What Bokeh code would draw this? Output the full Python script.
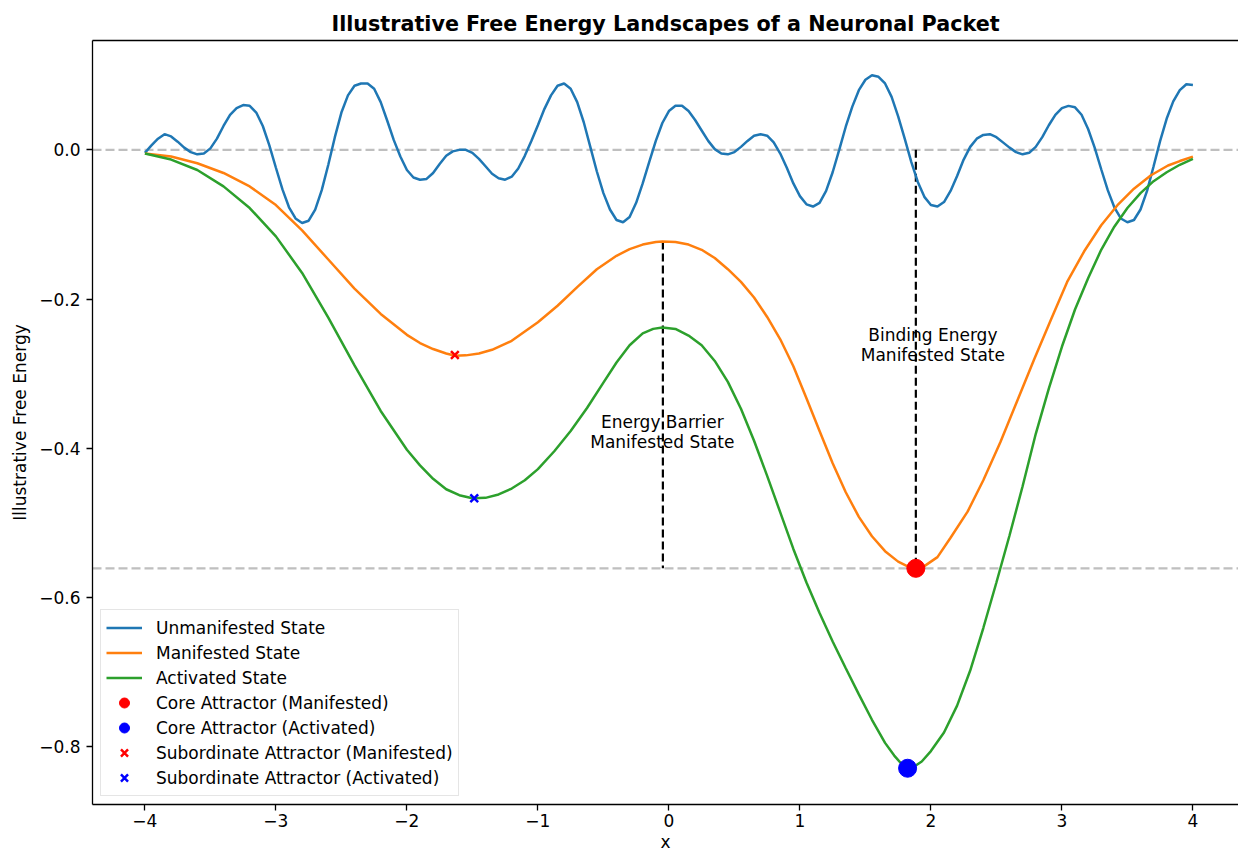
from bokeh.plotting import figure
from bokeh.models import Range1d, FixedTicker, CustomJSTickFormatter, LinearAxis, Span
from bokeh.core.properties import value
from bokeh.embed import file_html
from bokeh.resources import INLINE

FONT = "DejaVu Sans"

# ---------------- data ----------------
x_unman = [-4.0, -3.95, -3.9, -3.85, -3.8, -3.75, -3.7, -3.65, -3.6, -3.55, -3.5, -3.45, -3.4, -3.35,
           -3.3, -3.25, -3.2, -3.15, -3.1, -3.05, -3.0, -2.95, -2.9, -2.85, -2.8, -2.75, -2.7, -2.65,
           -2.6, -2.55, -2.5, -2.45, -2.4, -2.35, -2.3, -2.25, -2.2, -2.15, -2.1, -2.05, -2.0, -1.95,
           -1.9, -1.85, -1.8, -1.75, -1.7, -1.65, -1.6, -1.55, -1.5, -1.45, -1.4, -1.35, -1.3, -1.25,
           -1.2, -1.15, -1.1, -1.05, -1.0, -0.95, -0.9, -0.85, -0.8, -0.75, -0.7, -0.65, -0.6, -0.55,
           -0.5, -0.45, -0.4, -0.35, -0.3, -0.25, -0.2, -0.15, -0.1, -0.05, 0.0, 0.05, 0.1, 0.15,
           0.2, 0.25, 0.3, 0.35, 0.4, 0.45, 0.5, 0.55, 0.6, 0.65, 0.7, 0.75, 0.8, 0.85,
           0.9, 0.95, 1.0, 1.05, 1.1, 1.15, 1.2, 1.25, 1.3, 1.35, 1.4, 1.45, 1.5, 1.55,
           1.6, 1.65, 1.7, 1.75, 1.8, 1.85, 1.9, 1.95, 2.0, 2.05, 2.1, 2.15, 2.2, 2.25,
           2.3, 2.35, 2.4, 2.45, 2.5, 2.55, 2.6, 2.65, 2.7, 2.75, 2.8, 2.85, 2.9, 2.95,
           3.0, 3.05, 3.1, 3.15, 3.2, 3.25, 3.3, 3.35, 3.4, 3.45, 3.5, 3.55, 3.6, 3.65,
           3.7, 3.75, 3.8, 3.85, 3.9, 3.95, 4.0]
y_unman = [-0.004, 0.006, 0.015, 0.021, 0.018, 0.011, 0.003, -0.003, -0.006, -0.005, 0.002, 0.015, 0.032, 0.047,
           0.056, 0.060, 0.059, 0.050, 0.032, 0.006, -0.024, -0.053, -0.077, -0.092, -0.098, -0.095, -0.080, -0.054,
           -0.020, 0.017, 0.050, 0.073, 0.086, 0.089, 0.089, 0.082, 0.064, 0.039, 0.013, -0.009, -0.027, -0.037,
           -0.040, -0.039, -0.031, -0.019, -0.008, -0.002, 0.000, 0.000, -0.004, -0.012, -0.022, -0.032, -0.038, -0.040,
           -0.036, -0.025, -0.008, 0.012, 0.033, 0.055, 0.073, 0.086, 0.089, 0.082, 0.064, 0.037, 0.004, -0.029,
           -0.058, -0.080, -0.094, -0.097, -0.090, -0.071, -0.045, -0.016, 0.012, 0.036, 0.052, 0.059, 0.059, 0.052,
           0.040, 0.026, 0.012, 0.001, -0.005, -0.006, -0.003, 0.004, 0.012, 0.019, 0.021, 0.019, 0.010, -0.005,
           -0.024, -0.045, -0.062, -0.073, -0.076, -0.071, -0.055, -0.030, 0.000, 0.031, 0.058, 0.080, 0.094, 0.100,
           0.098, 0.089, 0.071, 0.045, 0.015, -0.016, -0.043, -0.063, -0.074, -0.076, -0.070, -0.055, -0.035, -0.013,
           0.004, 0.015, 0.020, 0.021, 0.017, 0.010, 0.003, -0.003, -0.006, -0.004, 0.004, 0.017, 0.033, 0.047,
           0.056, 0.059, 0.057, 0.047, 0.028, 0.003, -0.026, -0.054, -0.077, -0.092, -0.097, -0.094, -0.080, -0.055,
           -0.022, 0.012, 0.042, 0.065, 0.080, 0.088, 0.087]

x_manif = [-4.0, -3.8, -3.6, -3.4, -3.2, -3.0, -2.8, -2.6, -2.4, -2.2, -2.0, -1.9, -1.8, -1.7,
           -1.63, -1.55, -1.45, -1.35, -1.2, -1.0, -0.85, -0.7, -0.55, -0.4, -0.3, -0.2, -0.1, -0.05,
           0.05, 0.15, 0.25, 0.35, 0.45, 0.55, 0.65, 0.75, 0.85, 0.95, 1.05, 1.15, 1.25, 1.35,
           1.45, 1.55, 1.65, 1.75, 1.83, 1.885, 1.95, 2.05, 2.15, 2.28, 2.4, 2.53, 2.66, 2.79,
           2.92, 3.04, 3.17, 3.3, 3.43, 3.55, 3.68, 3.81, 3.9, 4.0]
y_manif = [-0.005, -0.009, -0.018, -0.031, -0.049, -0.074, -0.108, -0.147, -0.186, -0.220, -0.248, -0.259, -0.267, -0.273,
           -0.276, -0.2755, -0.273, -0.268, -0.256, -0.231, -0.209, -0.184, -0.160, -0.142, -0.133, -0.127, -0.1235, -0.123,
           -0.1235, -0.127, -0.134, -0.145, -0.160, -0.177, -0.198, -0.224, -0.254, -0.290, -0.333, -0.377, -0.420, -0.459,
           -0.492, -0.518, -0.538, -0.552, -0.559, -0.561, -0.558, -0.546, -0.520, -0.485, -0.443, -0.392, -0.336, -0.280,
           -0.226, -0.177, -0.136, -0.101, -0.073, -0.052, -0.034, -0.021, -0.015, -0.009]

x_activ = [-4.0, -3.8, -3.6, -3.4, -3.2, -3.0, -2.8, -2.6, -2.4, -2.2, -2.0, -1.9, -1.8, -1.7,
           -1.6, -1.5, -1.4, -1.3, -1.2, -1.1, -1.0, -0.875, -0.75, -0.625, -0.5, -0.4, -0.3, -0.2,
           -0.12, -0.05, 0.05, 0.15, 0.25, 0.35, 0.45, 0.55, 0.65, 0.75, 0.85, 0.95, 1.05, 1.15,
           1.25, 1.35, 1.45, 1.55, 1.65, 1.72, 1.78, 1.822, 1.87, 1.93, 2.0, 2.1, 2.2, 2.3,
           2.4, 2.5, 2.6, 2.7, 2.8, 2.9, 3.0, 3.1, 3.2, 3.3, 3.4, 3.5, 3.6, 3.7,
           3.8, 3.9, 4.0]
y_activ = [-0.005, -0.013, -0.027, -0.049, -0.078, -0.116, -0.165, -0.225, -0.289, -0.350, -0.402, -0.423, -0.441, -0.455,
           -0.463, -0.467, -0.4665, -0.462, -0.454, -0.443, -0.428, -0.404, -0.377, -0.346, -0.312, -0.285, -0.262, -0.246,
           -0.240, -0.238, -0.240, -0.249, -0.262, -0.283, -0.311, -0.347, -0.390, -0.437, -0.486, -0.535, -0.580, -0.621,
           -0.659, -0.695, -0.730, -0.764, -0.795, -0.812, -0.824, -0.829, -0.827, -0.820, -0.806, -0.781, -0.745, -0.698,
           -0.641, -0.580, -0.517, -0.451, -0.381, -0.320, -0.264, -0.214, -0.172, -0.134, -0.103, -0.078, -0.058, -0.042,
           -0.030, -0.020, -0.012]

core_manif_x = [1.885]
core_manif_y = [-0.561]
core_activ_x = [1.822]
core_activ_y = [-0.829]
sub_manif_x = [-1.634]
sub_manif_y = [-0.275]
sub_activ_x = [-1.486]
sub_activ_y = [-0.467]

# reference levels and dashed markers
ref_levels = [0.0, -0.561]
barrier_x = [-0.046]
barrier_top = [-0.123]
barrier_bottom = [-0.561]
binding_x = [1.885]
binding_top = [0.0]
binding_bottom = [-0.561]

annot_text = ["Energy Barrier\nManifested State", "Binding Energy\nManifested State"]
annot_x = [-0.05, 2.015]
annot_y = [-0.378, -0.262]

x_ticks = [-4, -3, -2, -1, 0, 1, 2, 3, 4]
y_ticks = [-0.8, -0.6, -0.4, -0.2, 0.0]

# ---------------- figure ----------------
p = figure(width=1238, height=854, output_backend="svg", toolbar_location=None,
           x_range=Range1d(-4.4, 4.348), y_range=Range1d(-0.8776, 0.1466),
           min_border_left=92, min_border_right=0, min_border_top=40, min_border_bottom=49,
           background_fill_color="white", border_fill_color="white")

p.title.text = "Illustrative Free Energy Landscapes of a Neuronal Packet"
p.title.text_font = FONT
p.title.text_font_size = "20.7px"
p.title.text_font_style = "bold"
p.title.text_color = "black"
p.title.align = "center"
p.title.standoff = 9

p.outline_line_color = None
p.xgrid.visible = False
p.ygrid.visible = False

GRAY = "#bfbfbf"
for lv in ref_levels:
    p.add_layout(Span(location=lv, dimension="width", line_color=GRAY,
                      line_width=2.2, line_dash="9 4", level="underlay"))

p.segment(x0=barrier_x, y0=barrier_top, x1=barrier_x, y1=barrier_bottom,
          line_color="black", line_width=2.2, line_dash="8 4")
p.segment(x0=binding_x, y0=binding_top, x1=binding_x, y1=binding_bottom,
          line_color="black", line_width=2.2, line_dash="8 4")

p.line(x_unman, y_unman, line_color="#1f77b4", line_width=2.5, legend_label="Unmanifested State")
p.line(x_manif, y_manif, line_color="#ff7f0e", line_width=2.5, legend_label="Manifested State")
p.line(x_activ, y_activ, line_color="#2ca02c", line_width=2.5, legend_label="Activated State")

p.scatter(core_manif_x, core_manif_y, marker="circle", size=18, fill_color="red", line_color="red",
          legend_label="Core Attractor (Manifested)")
p.scatter(core_activ_x, core_activ_y, marker="circle", size=18, fill_color="blue", line_color="blue",
          legend_label="Core Attractor (Activated)")
p.scatter(sub_manif_x, sub_manif_y, marker="x", size=11, line_color="red", line_width=2.5,
          legend_label="Subordinate Attractor (Manifested)")
p.scatter(sub_activ_x, sub_activ_y, marker="x", size=11, line_color="blue", line_width=2.5,
          legend_label="Subordinate Attractor (Activated)")

p.text(x=annot_x, y=annot_y, text=annot_text, text_align="center", text_baseline="middle",
       text_font=value(FONT), text_font_size="17px", text_color="black", text_line_height=1.0)

# axes
p.xaxis.ticker = FixedTicker(ticks=x_ticks)
p.yaxis.ticker = FixedTicker(ticks=y_ticks)
p.xaxis.formatter = CustomJSTickFormatter(
    code="return (tick < -1e-9 ? '\u2212' : '') + Math.abs(tick).toFixed(0);")
p.yaxis.formatter = CustomJSTickFormatter(
    code="return (tick < -1e-9 ? '\u2212' : '') + Math.abs(tick).toFixed(1);")
p.xaxis.axis_label = "x"
p.yaxis.axis_label = "Illustrative Free Energy"
for ax in (p.xaxis[0], p.yaxis[0]):
    ax.axis_line_color = "black"
    ax.axis_line_width = 1.3
    ax.major_tick_line_color = "black"
    ax.major_tick_line_width = 1.3
    ax.major_tick_out = 6
    ax.major_tick_in = 0
    ax.minor_tick_out = 0
    ax.minor_tick_in = 0
    ax.major_label_text_font = FONT
    ax.major_label_text_font_size = "17px"
    ax.major_label_text_color = "black"
    ax.axis_label_text_font = FONT
    ax.axis_label_text_font_size = "17px"
    ax.axis_label_text_font_style = "normal"
    ax.axis_label_text_color = "black"
p.xaxis.major_label_standoff = 3
p.xaxis.axis_label_standoff = 2
p.yaxis.major_label_standoff = 6
p.yaxis.axis_label_standoff = 6

top = LinearAxis(ticker=FixedTicker(ticks=[]), axis_line_color="black", axis_line_width=1.3,
                 major_tick_out=0, major_tick_in=0, minor_tick_out=0, minor_tick_in=0,
                 major_label_text_font_size="0px", major_label_standoff=0)
p.add_layout(top, "above")

lg = p.legend[0]
lg.location = "bottom_left"
lg.margin = 8
lg.padding = 5
lg.spacing = 0
lg.glyph_width = 36
lg.glyph_height = 25
lg.label_height = 20
lg.label_standoff = 14
lg.label_text_font = FONT
lg.label_text_font_size = "17px"
lg.label_text_color = "black"
lg.border_line_color = "#cccccc"
lg.border_line_width = 1.2
lg.background_fill_alpha = 0.8

open("out.html", "w").write(file_html(p, INLINE))
